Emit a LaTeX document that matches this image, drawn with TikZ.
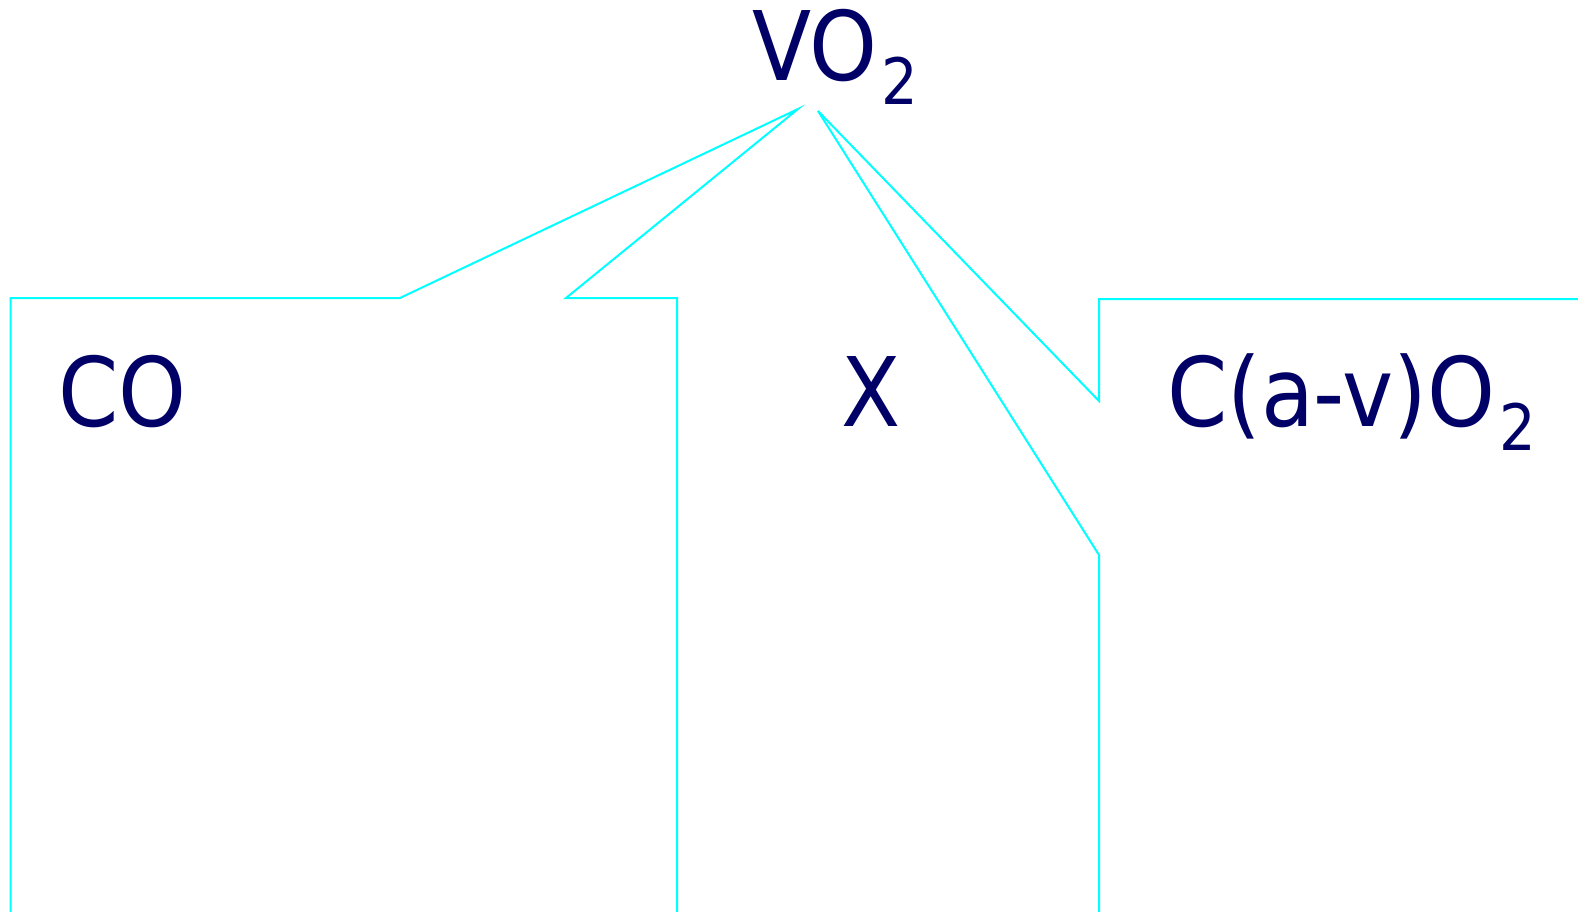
\documentclass[tikz,border=0pt]{standalone}
\usepackage{fontspec}
\setmainfont{DejaVu Sans Condensed}
\definecolor{navytext}{RGB}{0,0,102}
\definecolor{cyanline}{RGB}{0,255,255}
\newcommand{\subtwo}{\kern4pt\raisebox{-24pt}{\fontsize{64}{70}\selectfont 2}}
\begin{document}
\begin{tikzpicture}[x=1pt,y=-1pt,
  lbl/.style={inner sep=0pt, outer sep=0pt, anchor=base west, text=navytext, font=\fontsize{96}{100}\selectfont},
  wire/.style={draw=cyanline, line width=2pt, line join=miter}]
\useasboundingbox (0,0) rectangle (1578,912);
\node[lbl] (vo2) at (752,80.5) {VO\subtwo};
\node[lbl] (co) at (58,426) {CO};
\node[lbl] (x) at (841,426) {X};
\node[lbl] (cav) at (1167,426) {C(a-v)O\subtwo};
\coordinate (apexL) at (798,109);
\coordinate (apexR) at (818,111);
\coordinate (lb) at (10.6,912);
\coordinate (mb) at (677,912);
\coordinate (xb) at (1099,912);
\coordinate (re) at (1578,299);
\draw[wire] (lb) -- (10.6,298) -- (400,298) -- (apexL) -- (566,298) -- (677,298) -- (mb);
\draw[wire] (apexR) -- (1099,555) -- (xb);
\draw[wire] (apexR) -- (1099,401) -- (1099,299) -- (re);
\end{tikzpicture}
\end{document}
